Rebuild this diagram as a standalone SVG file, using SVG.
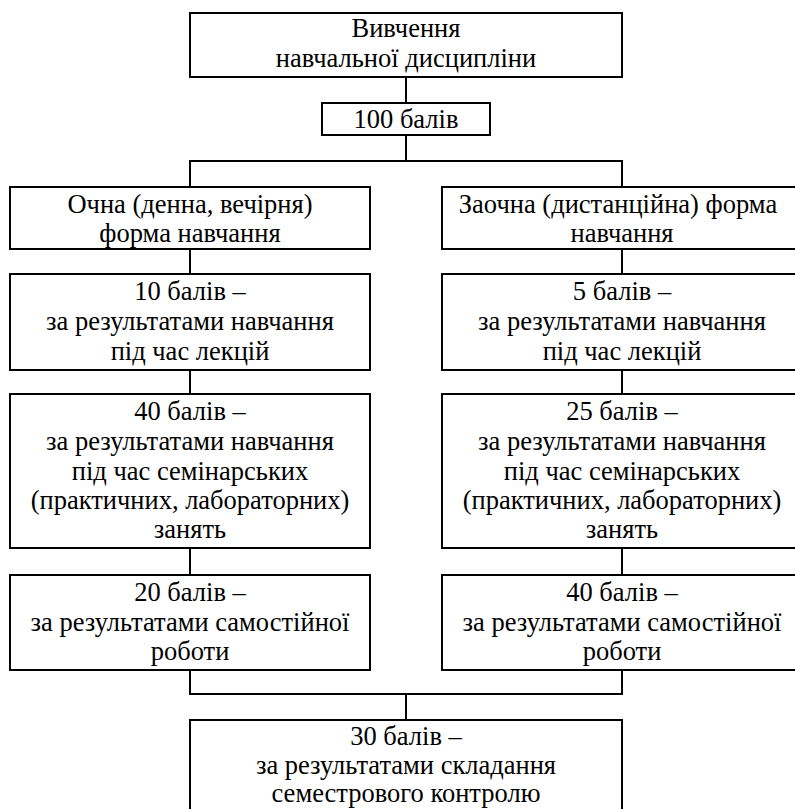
<svg xmlns="http://www.w3.org/2000/svg" width="795" height="809" viewBox="0 0 795 809">
<style>
  rect { fill: #fff; stroke: #000; stroke-width: 2; }
  .c line, .c polyline { fill: none; stroke: #000; stroke-width: 2; }
  .t text { font-family: 'Liberation Serif', Tinos, 'Times New Roman', Times, 'DejaVu Serif', serif; font-size: 26.5px; fill: #000; text-anchor: middle; }
</style>
<rect x="0" y="0" width="795" height="809" style="stroke:none"/>
<g class="c" id="connectors">
  <line x1="406" y1="77" x2="406" y2="103"/>
  <line x1="406" y1="135" x2="406" y2="161"/>
  <polyline points="190,187 190,161 622,161 622,187"/>
  <line x1="190" y1="249" x2="190" y2="274"/>
  <line x1="622" y1="249" x2="622" y2="274"/>
  <line x1="190" y1="370" x2="190" y2="394"/>
  <line x1="622" y1="370" x2="622" y2="394"/>
  <line x1="190" y1="548" x2="190" y2="575"/>
  <line x1="622" y1="548" x2="622" y2="575"/>
  <polyline points="190,670 190,694 622,694 622,670"/>
  <line x1="406" y1="694" x2="406" y2="720"/>
</g>
<g class="t">
<g id="study">
  <rect x="190" y="13" width="432" height="64"/>
  <text x="406" y="37">Вивчення</text>
  <text x="406" y="67">навчальної дисципліни</text>
</g>
<g id="total">
  <rect x="322" y="103" width="168" height="32"/>
  <text x="406" y="128">100 балів</text>
</g>
<g id="fulltime">
  <rect x="10" y="187" width="360" height="62"/>
  <text x="190" y="213">Очна (денна, вечірня)</text>
  <text x="190" y="242">форма навчання</text>
</g>
<g id="distance">
  <rect x="442" y="187" width="360" height="62"/>
  <text x="618" y="213">Заочна (дистанційна) форма</text>
  <text x="622" y="242">навчання</text>
</g>
<g id="ft-lectures">
  <rect x="10" y="274" width="360" height="96"/>
  <text x="190" y="300">10 балів –</text>
  <text x="190" y="330">за результатами навчання</text>
  <text x="190" y="360">під час лекцій</text>
</g>
<g id="d-lectures">
  <rect x="442" y="274" width="360" height="96"/>
  <text x="622" y="300">5 балів –</text>
  <text x="622" y="330">за результатами навчання</text>
  <text x="622" y="360">під час лекцій</text>
</g>
<g id="ft-seminars">
  <rect x="10" y="394" width="360" height="154"/>
  <text x="190" y="420">40 балів –</text>
  <text x="190" y="450">за результатами навчання</text>
  <text x="190" y="480">під час семінарських</text>
  <text x="190" y="509">(практичних, лабораторних)</text>
  <text x="190" y="538">занять</text>
</g>
<g id="d-seminars">
  <rect x="442" y="394" width="360" height="154"/>
  <text x="622" y="420">25 балів –</text>
  <text x="622" y="450">за результатами навчання</text>
  <text x="622" y="480">під час семінарських</text>
  <text x="622" y="509">(практичних, лабораторних)</text>
  <text x="622" y="538">занять</text>
</g>
<g id="ft-selfwork">
  <rect x="10" y="575" width="360" height="95"/>
  <text x="190" y="601">20 балів –</text>
  <text x="190" y="631">за результатами самостійної</text>
  <text x="190" y="660">роботи</text>
</g>
<g id="d-selfwork">
  <rect x="442" y="575" width="360" height="95"/>
  <text x="622" y="601">40 балів –</text>
  <text x="622" y="631">за результатами самостійної</text>
  <text x="622" y="660">роботи</text>
</g>
<g id="exam">
  <rect x="190" y="720" width="432" height="100"/>
  <text x="406" y="745">30 балів –</text>
  <text x="406" y="774">за результатами складання</text>
  <text x="406" y="802">семестрового контролю</text>
</g>
</g>
</svg>
